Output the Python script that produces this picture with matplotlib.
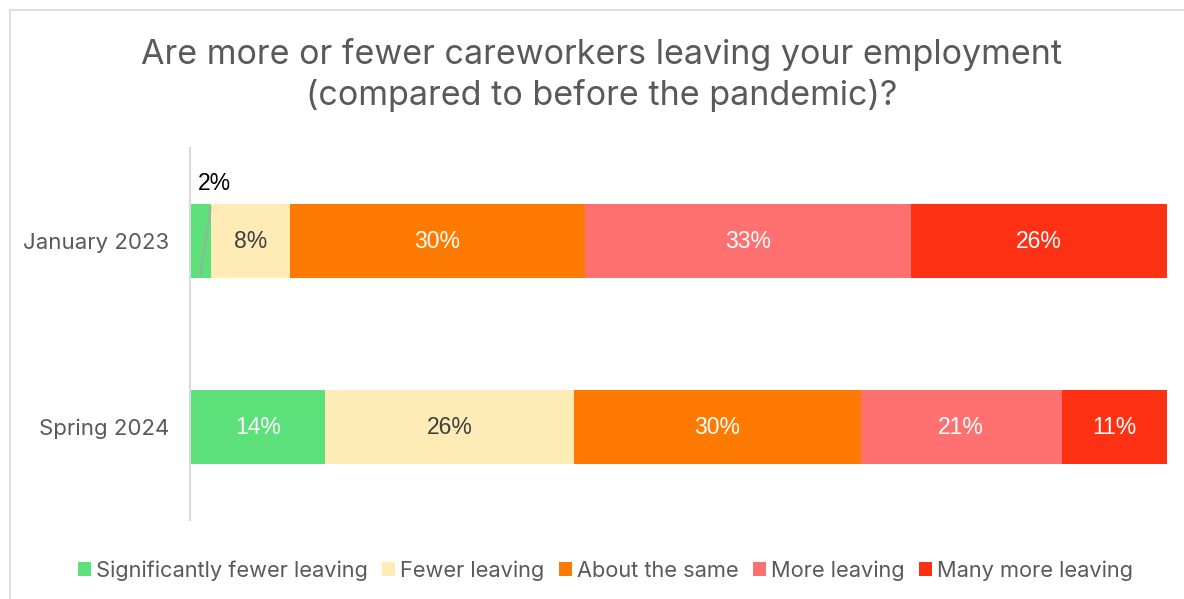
import matplotlib
matplotlib.use("Agg")
import matplotlib.pyplot as plt
import numpy as np
from matplotlib.patches import Rectangle

plt.rcParams["font.family"] = ["Inter", "DejaVu Sans"]

periods = ["Spring 2024", "January 2023"]
responses = [
    "Significantly fewer leaving",
    "Fewer leaving",
    "About the same",
    "More leaving",
    "Many more leaving",
]
spring_2024 = [14, 26, 30, 21, 11]
january_2023 = [2, 8, 30, 33, 26]
colors = ["#5BE07A", "#FFEBB5", "#FF7A00", "#FF7070", "#FF3115"]
label_colors = ["#FFFFFF", "#404040", "#FFFFFF", "#FFFFFF", "#FFFFFF"]

values = np.array([spring_2024, january_2023], dtype=float)
shares = values / values.sum(axis=1, keepdims=True)

fig = plt.figure(figsize=(11.84, 5.99), dpi=100)
fig.patches.append(Rectangle((10 / 1184, -0.1), 1.2, (589 / 599) + 0.1,
                             transform=fig.transFigure, fill=False,
                             edgecolor="#D9D9D9", linewidth=1.2))

ax = fig.add_axes([191 / 1184, 79 / 599, 976 / 1184, 372 / 599])
y = np.arange(len(periods))
left = np.zeros(len(periods))
lbl_font = ["Liberation Sans", "DejaVu Sans"]
for i, name in enumerate(responses):
    w = shares[:, i]
    ax.barh(y, w, left=left, height=0.4, color=colors[i], label=name)
    for j in range(len(periods)):
        if values[j, i] >= 5:
            ax.text(left[j] + w[j] / 2, y[j], f"{int(values[j, i])}%",
                    ha="center", va="center", fontsize=16.5, family=lbl_font,
                    color=label_colors[i])
        else:
            # small segment: label sits above the bar with a leader line
            ax.annotate(f"{int(values[j, i])}%",
                        xy=(left[j] + w[j] * 0.45, y[j] - 0.19),
                        xytext=(left[j] + w[j] + 0.004, y[j] + 0.31),
                        ha="center", va="center", fontsize=16.5, family=lbl_font,
                        color="#000000",
                        arrowprops=dict(arrowstyle="-", color="#A6A6A6", lw=1.2,
                                        shrinkA=7, shrinkB=0))
    left += w

ax.set_xlim(0, 1)
ax.set_ylim(-0.5, 1.5)
ax.set_yticks(y)
ax.set_yticklabels(periods)
ax.tick_params(axis="y", length=0, pad=15, labelsize=16, labelcolor="#595959")
ax.set_xticks([])
for side in ["top", "right", "bottom"]:
    ax.spines[side].set_visible(False)
ax.spines["left"].set_color("#D9D9D9")
ax.spines["left"].set_linewidth(1.5)
ax.spines["left"].set_position(("outward", 1))

fig.text(0.508, 0.875, "Are more or fewer careworkers leaving your employment\n"
         "(compared to before the pandemic)?", ha="center", va="center",
         fontsize=24.5, color="#595959", linespacing=1.3)

fig.legend(loc="center", bbox_to_anchor=(0.5114, 0.047), ncol=5, frameon=False,
           fontsize=15.7, handlelength=0.6, handleheight=0.6, handletextpad=0.25,
           columnspacing=0.64, labelcolor="#595959")

fig.savefig("out.png", dpi=100)
